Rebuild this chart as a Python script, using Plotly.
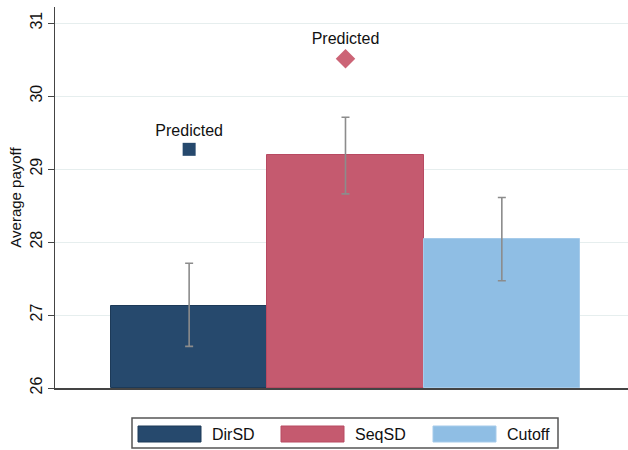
import plotly.graph_objects as go

categories = ["DirSD", "SeqSD", "Cutoff"]
means = [27.13, 29.19, 28.04]
ci_upper = [27.71, 29.71, 28.61]
ci_lower = [26.57, 28.66, 27.47]
predicted_cats = ["DirSD", "SeqSD"]
predicted_vals = [29.27, 30.51]
predicted_symbols = ["square", "diamond"]
predicted_sizes = [13, 15]
colors = {"DirSD": "#26496d", "SeqSD": "#c55a6f", "Cutoff": "#8fbee4"}
edge_colors = {"DirSD": "#1d3a58", "SeqSD": "#b84a62", "Cutoff": "#a6cbea"}
pred_colors = {"DirSD": "#26496d", "SeqSD": "#cc6476"}
yticks = [26, 27, 28, 29, 30, 31]

FONT = "Liberation Sans, Arial, Helvetica, sans-serif"
pos = {c: i + 1 for i, c in enumerate(categories)}

fig = go.Figure()
for c, m, hi, lo in zip(categories, means, ci_upper, ci_lower):
    fig.add_trace(go.Bar(
        x=[pos[c]], y=[m - 26], base=26, width=1.0, name=c,
        marker=dict(color=colors[c], line=dict(color=edge_colors[c], width=1)),
        error_y=dict(type="data", symmetric=False, array=[hi - m], arrayminus=[m - lo],
                     color="#8c8c8c", thickness=1.6, width=4),
        showlegend=False,
    ))

fig.add_trace(go.Scatter(
    x=[pos[c] for c in predicted_cats], y=predicted_vals, mode="markers+text",
    marker=dict(symbol=predicted_symbols, size=predicted_sizes, opacity=1,
                color=[pred_colors[c] for c in predicted_cats], line=dict(width=0)),
    text=["Predicted"] * len(predicted_cats), textposition="top center",
    textfont=dict(family=FONT, size=16, color="#111111"),
    showlegend=False, cliponaxis=False,
))

W, H = 628, 450
ML, MR, MT, MB = 55, 0, 7, 62

fig.update_layout(
    width=W, height=H,
    margin=dict(l=ML, r=MR, t=MT, b=MB),
    paper_bgcolor="white", plot_bgcolor="white",
    font=dict(family=FONT, size=15, color="#111111"),
    bargap=0,
    xaxis=dict(range=[0.142, 3.807], showticklabels=False, ticks="", showgrid=False,
               zeroline=False, showline=True, linecolor="#444444", linewidth=1.5),
    yaxis=dict(range=[26, 31.22], tickvals=yticks, ticktext=[str(t) for t in yticks],
               tickangle=-90, ticks="outside", ticklen=6, tickcolor="#444444",
               showgrid=True, gridcolor="#e6eeee", gridwidth=1, zeroline=False,
               showline=True, linecolor="#444444", linewidth=1.2,
               title=dict(text="Average payoff", font=dict(size=15), standoff=2),
               tickfont=dict(size=16)),
)

# custom legend (boxed, wide swatches), positions in pixel -> paper coords
plot_w = W - ML - MR
plot_h = H - MT - MB
def xp(x):
    return (x - ML) / plot_w
def yp(y):
    return (H - MB - y) / plot_h

shapes = [dict(type="rect", xref="paper", yref="paper",
               x0=xp(132), x1=xp(558), y0=yp(448), y1=yp(418),
               line=dict(color="#555555", width=1.5), fillcolor="white")]
swatch_x = [138, 281, 433]
annotations = []
for c, sx in zip(categories, swatch_x):
    shapes.append(dict(type="rect", xref="paper", yref="paper",
                       x0=xp(sx), x1=xp(sx + 63), y0=yp(442), y1=yp(426),
                       line=dict(color=edge_colors[c], width=1), fillcolor=colors[c]))
    annotations.append(dict(xref="paper", yref="paper", x=xp(sx + 72), y=yp(434),
                            text=c, showarrow=False, xanchor="left", yanchor="middle",
                            font=dict(family=FONT, size=16, color="#111111")))
fig.update_layout(shapes=shapes, annotations=annotations)

fig.write_html("out.html", config={"displayModeBar": False},
               post_script="document.body.style.margin='0';")
